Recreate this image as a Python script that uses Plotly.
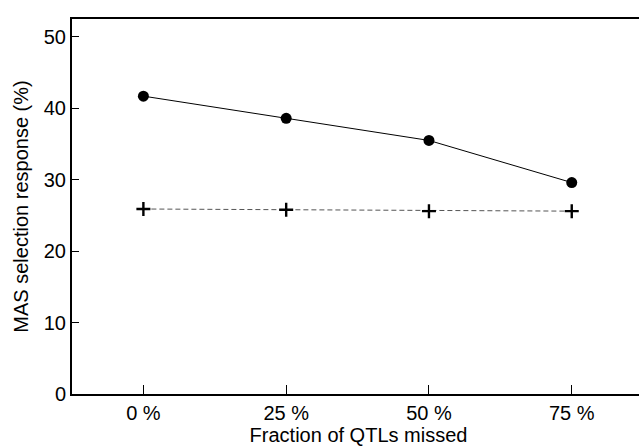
import plotly.graph_objects as go

categories = ["0 %", "25 %", "50 %", "75 %"]
mas_response = [41.7, 38.6, 35.5, 29.6]
phenotypic_response = [25.9, 25.8, 25.6, 25.6]
y_ticks = [0, 10, 20, 30, 40, 50]

FONT = "Liberation Sans, Arial, Helvetica, sans-serif"

fig = go.Figure()
fig.add_trace(go.Scatter(
    x=categories, y=phenotypic_response, mode="lines+markers",
    line=dict(color="#555555", width=1, dash="5px,3px"),
    marker=dict(symbol="cross-thin", size=10, line=dict(color="black", width=2.4), color="black"),
    showlegend=False, cliponaxis=False, hoverinfo="skip",
))
fig.add_trace(go.Scatter(
    x=categories, y=mas_response, mode="lines+markers",
    line=dict(color="black", width=1),
    marker=dict(symbol="circle", size=11, color="black"),
    showlegend=False, cliponaxis=False, hoverinfo="skip",
))

# The plot frame runs past the right edge of the window (as in the reference),
# so the figure is slightly wider than the viewport and the overflow is hidden.
fig.update_layout(
    width=645, height=448,
    margin=dict(l=72, r=0, t=19, b=54, autoexpand=False),
    paper_bgcolor="white", plot_bgcolor="white",
    hovermode=False, dragmode=False,
    font=dict(family=FONT, size=20, color="black"),
    xaxis=dict(
        type="category", range=[-0.5, 3.513], automargin=False,
        showline=True, linecolor="black", linewidth=2, mirror=True,
        ticks="inside", ticklen=9, tickcolor="black", tickwidth=1,
        showgrid=False, zeroline=False, showspikes=False,
        title=dict(text="Fraction of QTLs missed", font=dict(size=20), standoff=4),
        tickfont=dict(size=20),
    ),
    yaxis=dict(
        range=[0, 52.5], tickvals=y_ticks, automargin=False,
        showline=True, linecolor="black", linewidth=2, mirror=False,
        ticks="inside", ticklen=7, tickcolor="black", tickwidth=1,
        showgrid=False, zeroline=False, showspikes=False,
        title=dict(text="MAS selection response (%)", font=dict(size=20), standoff=10),
        tickfont=dict(size=20),
    ),
)

fig.write_html(
    "out.html",
    config={"displayModeBar": False, "staticPlot": True},
    post_script="document.body.style.margin='0';document.body.style.overflow='hidden';",
)
